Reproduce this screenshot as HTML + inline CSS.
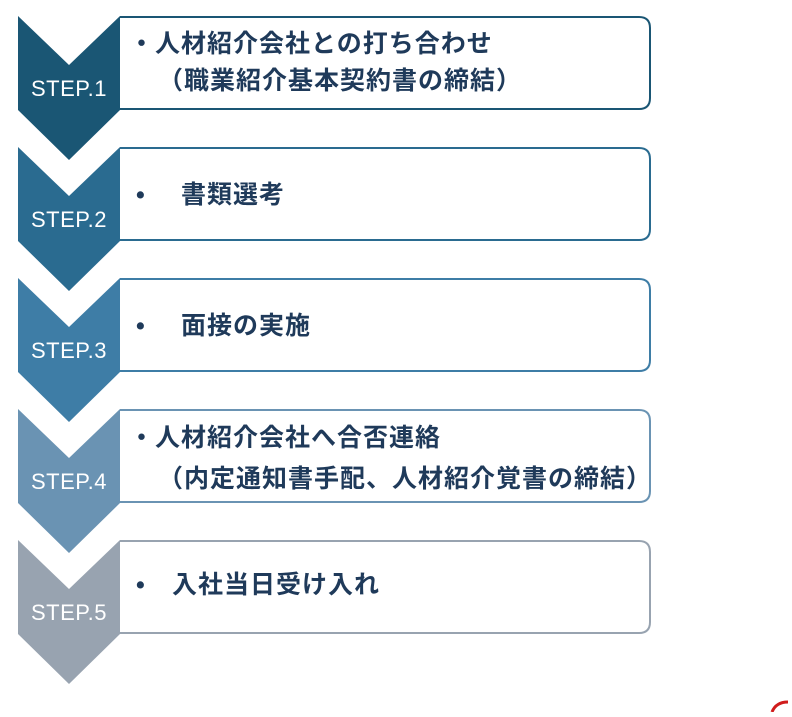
<!DOCTYPE html>
<html><head><meta charset="utf-8"><style>
body{margin:0;background:#fff;width:792px;height:712px;overflow:hidden}
svg text{font-family:"Liberation Sans","Noto Sans CJK JP",sans-serif}
.t{font-size:25px;font-weight:bold;fill:#1f3a5a;letter-spacing:1px}
.s{font-size:22px;fill:#fff;letter-spacing:0.5px}
</style></head><body>
<svg width="792" height="712" xmlns="http://www.w3.org/2000/svg">
<g stroke-width="2" fill="#fff">
<path d="M120,17 H639 Q650,17 650,28 V98 Q650,109 639,109 H120" stroke="#1a5674"/>
<path d="M120,148 H639 Q650,148 650,159 V229 Q650,240 639,240 H120" stroke="#2a6b90"/>
<path d="M120,279 H639 Q650,279 650,290 V360 Q650,371 639,371 H120" stroke="#3e7da6"/>
<path d="M120,410 H639 Q650,410 650,421 V491 Q650,502 639,502 H120" stroke="#6a93b3"/>
<path d="M120,541 H639 Q650,541 650,552 V622 Q650,633 639,633 H120" stroke="#98a3b0"/>
</g>
<polygon points="18,16 69,65 120,16 120,110 69,160 18,110" fill="#1a5674"/>
<polygon points="18,147 69,196 120,147 120,241 69,291 18,241" fill="#2a6b90"/>
<polygon points="18,278 69,327 120,278 120,372 69,422 18,372" fill="#3e7da6"/>
<polygon points="18,409 69,458 120,409 120,503 69,553 18,503" fill="#6a93b3"/>
<polygon points="18,540 69,589 120,540 120,634 69,684 18,634" fill="#98a3b0"/>
<text class="s" x="69" y="96" text-anchor="middle">STEP.1</text>
<text class="s" x="69" y="227" text-anchor="middle">STEP.2</text>
<text class="s" x="69" y="358" text-anchor="middle">STEP.3</text>
<text class="s" x="69" y="489" text-anchor="middle">STEP.4</text>
<text class="s" x="69" y="620" text-anchor="middle">STEP.5</text>
<text class="t" x="129" y="52">・人材紹介会社との打ち合わせ</text>
<text class="t" x="158" y="89">（職業紹介基本契約書の締結）</text>
<text class="t" x="136" y="203">•</text><text class="t" x="181" y="203">書類選考</text>
<text class="t" x="136" y="334">•</text><text class="t" x="181" y="334">面接の実施</text>
<text class="t" x="129" y="446">・人材紹介会社へ合否連絡</text>
<text class="t" x="158" y="487">（内定通知書手配、人材紹介覚書の締結）</text>
<text class="t" x="136" y="593">•</text><text class="t" x="172" y="593">入社当日受け入れ</text>
<path d="M772,712 Q776,702 788,702" stroke="#d01c1c" stroke-width="3" fill="none"/>
</svg>
</body></html>
